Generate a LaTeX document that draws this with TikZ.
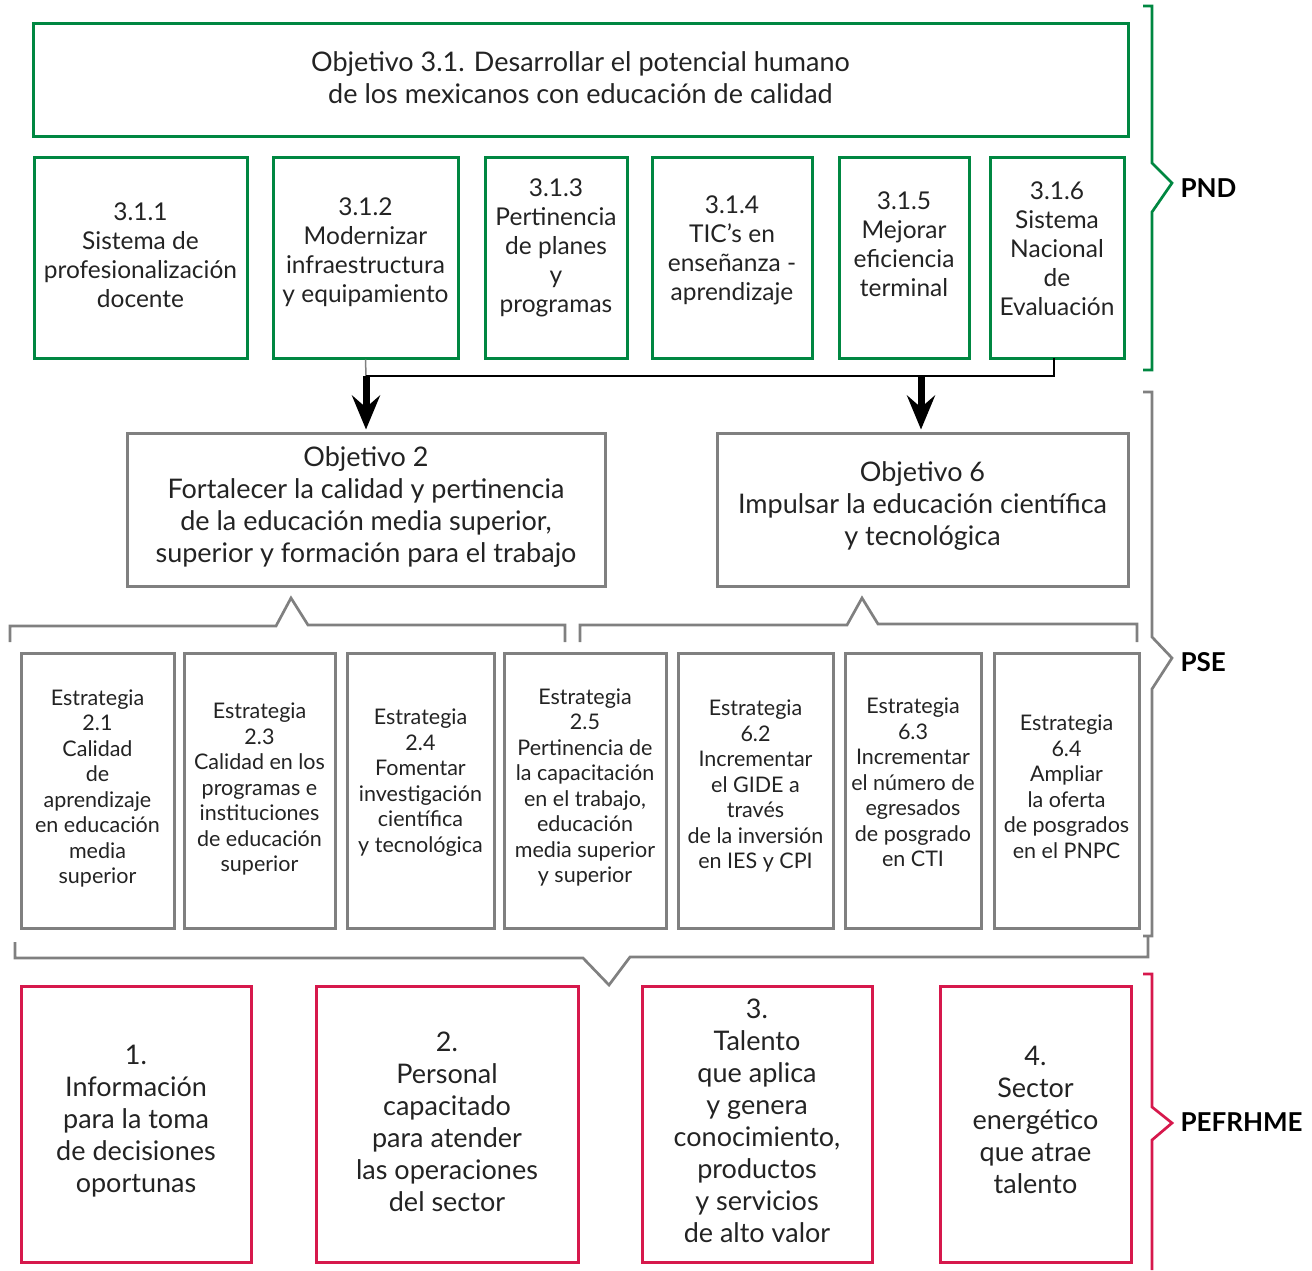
\documentclass[tikz,border=0pt]{standalone}
\usepackage{fontspec}
\setmainfont{Lato}
\usetikzlibrary{arrows.meta}
\definecolor{pndgreen}{RGB}{0,135,65}
\definecolor{psegray}{RGB}{128,128,128}
\definecolor{pefred}{RGB}{214,24,76}
\definecolor{txtgray}{RGB}{35,35,35}
\tikzset{
  box/.style={draw, line width=3pt, align=center, text=txtgray, inner sep=2pt},
  objbox/.style={box, draw=pndgreen, font=\fontsize{27}{32}\selectfont},
  pndbox/.style={box, draw=pndgreen, minimum height=201pt, font=\fontsize{24.5}{29}\selectfont},
  psebox/.style={box, draw=psegray, minimum height=153pt, font=\fontsize{27}{32}\selectfont},
  estbox/.style={box, draw=psegray, minimum height=275pt, font=\fontsize{21.5}{25.5}\selectfont},
  pefbox/.style={box, draw=pefred, minimum height=276pt, font=\fontsize{27}{32}\selectfont},
  thinline/.style={line width=1.5pt},
  bigarrow/.style={line width=7pt, -{Stealth[length=34pt,width=28pt,inset=12pt]}, shorten >=2pt},
  brace/.style={line width=2.7pt, line join=miter},
  tag/.style={anchor=west, font=\fontsize{26}{30}\selectfont\bfseries}
}
\begin{document}
\begin{tikzpicture}[x=1pt,y=1pt,yscale=-1]
    \useasboundingbox (0,0) rectangle (1312,1270);

    %PND
    \node[objbox, minimum width=1095pt, minimum height=113pt, text depth=4pt] (obj31) at (580.5,79.5) {Objetivo 3.1. Desarrollar el potencial humano\\de los mexicanos con educación de calidad};
    \node[pndbox, minimum width=213pt, text depth=5pt] (g1) at (140.5,257.5) {3.1.1\\Sistema de\\profesionalización\\docente};
    \node[pndbox, minimum width=185pt, text depth=15.5pt] (g2) at (365.5,257.5) {3.1.2\\Modernizar\\infraestructura\\y equipamiento};
    \node[pndbox, minimum width=142pt, text depth=24.5pt] (g3) at (556,257.5) {3.1.3\\Pertinencia\\de planes\\y\\programas};
    \node[pndbox, minimum width=160pt, text depth=18.5pt] (g4) at (732,257.5) {3.1.4\\TIC’s en\\enseñanza -\\aprendizaje};
    \node[pndbox, minimum width=130pt, text depth=26pt] (g5) at (904,257.5) {3.1.5\\Mejorar\\eficiencia\\terminal};
    \node[pndbox, minimum width=134pt, text depth=17pt] (g6) at (1057,257.5) {3.1.6\\Sistema\\Nacional\\de\\Evaluación};

    %PSE objectives
    \node[psebox, minimum width=478pt, text depth=9pt] (obj2) at (366,509.5) {Objetivo 2\\Fortalecer la calidad y pertinencia\\de la educación media superior,\\superior y formación para el trabajo};
    \node[psebox, minimum width=411pt, text depth=11pt] (obj6) at (922.5,509.5) {Objetivo 6\\Impulsar la educación científica\\y tecnológica};

    %Connectors
    \coordinate (j2) at (366,376);
    \coordinate (j6) at (921,376);
    \draw[thinline, draw=psegray] (g2.south) -- (j2);
    \draw[thinline] (j2) -- (1054,376) -- (1054,358);
    \draw[bigarrow] (j2) -- (obj2.north);
    \draw[bigarrow] (j6) -- (obj6.north -| j6);

    %Strategies
    \node[estbox, minimum width=153pt, text depth=8pt] (s21) at (97.5,790.5) {Estrategia\\2.1\\Calidad\\de\\aprendizaje\\en educación\\media\\superior};
    \node[estbox, minimum width=151pt, text depth=6pt] (s23) at (259.5,790.5) {Estrategia\\2.3\\Calidad en los\\programas e\\instituciones\\de educación\\superior};
    \node[estbox, minimum width=147pt, text depth=20pt] (s24) at (420.5,790.5) {Estrategia\\2.4\\Fomentar\\investigación\\científica\\y tecnológica};
    \node[estbox, minimum width=162pt, text depth=10pt] (s25) at (585,790.5) {Estrategia\\2.5\\Pertinencia de\\la capacitación\\en el trabajo,\\educación\\media superior\\y superior};
    \node[estbox, minimum width=155pt, text depth=12pt] (s62) at (755.5,790.5) {Estrategia\\6.2\\Incrementar\\el GIDE a\\través\\de la inversión\\en IES y CPI};
    \node[estbox, minimum width=136pt, text depth=16pt] (s63) at (913,790.5) {Estrategia\\6.3\\Incrementar\\el número de\\egresados\\de posgrado\\en CTI};
    \node[estbox, minimum width=145pt, text depth=8pt] (s64) at (1066.5,790.5) {Estrategia\\6.4\\Ampliar\\la oferta\\de posgrados\\en el PNPC};

    %Braces
    \draw[brace, psegray] (10,642) -- (10,626) -- (276,626) -- (291,598) -- (308,625) -- (565,625) -- (565,642);
    \draw[brace, psegray] (580,642) -- (580,625) -- (847,625) -- (862,598) -- (878,624) -- (1137,624) -- (1137,642);
    \draw[brace, psegray] (15,942) -- (15,958) -- (583,958) -- (609,985) -- (630,957) -- (1148,957) -- (1148,937);

    %PEFRHME
    \node[pefbox, minimum width=230pt, text depth=11pt] (r1) at (136,1124) {1.\\Información\\para la toma\\de decisiones\\oportunas};
    \node[pefbox, minimum width=262pt, text depth=4pt] (r2) at (447,1124) {2.\\Personal\\capacitado\\para atender\\las operaciones\\del sector};
    \node[pefbox, minimum width=230pt, text depth=6pt] (r3) at (757,1124) {3.\\Talento\\que aplica\\y genera\\conocimiento,\\productos\\y servicios\\de alto valor};
    \node[pefbox, minimum width=191pt, text depth=8pt] (r4) at (1035.5,1124) {4.\\Sector\\energético\\que atrae\\talento};

    %Side brackets
    \draw[brace, pndgreen] (1143,6) -- (1152,6) -- (1152,163) -- (1172,183) -- (1152,212) -- (1152,370) -- (1143,370);
    \draw[brace, psegray] (1143,392) -- (1152,392) -- (1152,637) -- (1172,658) -- (1152,689) -- (1152,936) -- (1143,936);
    \draw[brace, pefred] (1143,974) -- (1152,974) -- (1152,1107) -- (1172,1123) -- (1152,1140) -- (1152,1270);
    \node[tag] (pnd) at (1177,188) {PND};
    \node[tag] (pse) at (1177,662) {PSE};
    \node[tag] (pef) at (1177,1122) {PEFRHME};
\end{tikzpicture}
\end{document}
